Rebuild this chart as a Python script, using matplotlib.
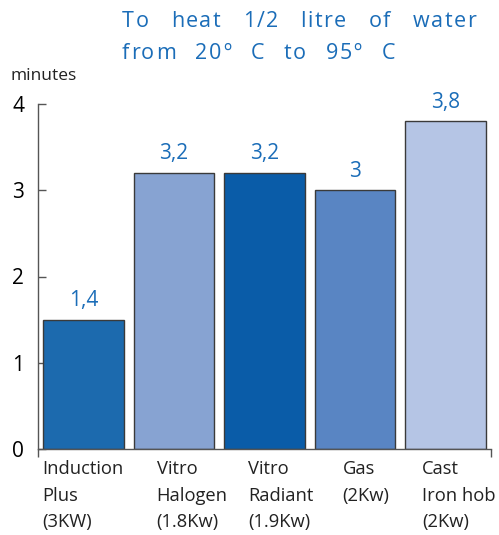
import numpy as np
import matplotlib.pyplot as plt

plt.rcParams['font.family'] = ['Open Sans', 'DejaVu Sans']

categories = ['Induction\nPlus\n(3KW)', 'Vitro\nHalogen\n(1.8Kw)', 'Vitro\nRadiant\n(1.9Kw)',
              'Gas\n(2Kw)', 'Cast\nIron hob\n(2Kw)']
values = [1.5, 3.2, 3.2, 3.0, 3.8]
value_labels = ['1,4', '3,2', '3,2', '3', '3,8']
colors = ['#1c6aae', '#87a3d2', '#0a5ca8', '#5985c3', '#b5c5e5']
label_shift = [-0.45, -0.19, -0.18, -0.14, -0.26]  # left edge of label vs bar centre
title_lines = [['To', 'heat', '1/2', 'litre', 'of', 'water'],
               ['from', '20º', 'C', 'to', '95º', 'C']]

blue = '#1b6db8'
W, H = 499, 535
fig = plt.figure(figsize=(W / 100, H / 100), dpi=100)
ax = fig.add_axes([38 / W, (H - 449) / H, (491 - 38) / W, (449 - 104) / H])

x = np.arange(len(values))
ax.bar(x, values, width=0.89, color=colors, edgecolor='#3a3a3a', linewidth=1.0, zorder=2)

for xi, v, lab in zip(x, values, value_labels):
    ax.text(xi, v + 0.1, lab, ha='center', va='bottom', color=blue, fontsize=15)

for xi, lab, s in zip(x, categories, label_shift):
    ax.text(xi + s, -0.13, lab, ha='left', va='top', fontsize=13.2, color='#222222',
            linespacing=1.6)

ax.set_xlim(-0.5, 4.5)
ax.set_ylim(0, 4)
ax.set_yticks([0, 1, 2, 3, 4])
ax.tick_params(axis='y', direction='in', length=6, width=1, color='#555555',
               labelsize=15, pad=10)
ax.set_xticks([-0.5, 4.5])
ax.set_xticklabels(['', ''])
ax.tick_params(axis='x', direction='out', length=6, width=1, color='#555555')
for side in ['top', 'right']:
    ax.spines[side].set_visible(False)
for side in ['left', 'bottom']:
    ax.spines[side].set_color('#555555')
    ax.spines[side].set_linewidth(1)

fig.text(10 / W, 1 - 76 / H, 'minutes', fontsize=12.5, ha='left', va='center', color='#222222')

# title, letters tracked a little and words spread out across each line
spans = [(122, 476), (122, 395)]
baselines = [27, 59]
track = 1.5
r = fig.canvas.get_renderer()
for words, (x0, x1), yb in zip(title_lines, spans, baselines):
    groups = []
    for w in words:
        chars = [fig.text(0, 1 - yb / H, c, fontsize=15.5, color=blue, va='baseline') for c in w]
        cw = [t.get_window_extent(r).width for t in chars]
        groups.append((chars, cw, sum(cw) + track * (len(cw) - 1)))
    gap = (x1 - x0 - sum(g[2] for g in groups)) / (len(groups) - 1)
    pos = x0
    for chars, cw, total in groups:
        p = pos
        for t, w in zip(chars, cw):
            t.set_x(p / W)
            p += w + track
        pos += total + gap

fig.savefig('out.png', dpi=100)
